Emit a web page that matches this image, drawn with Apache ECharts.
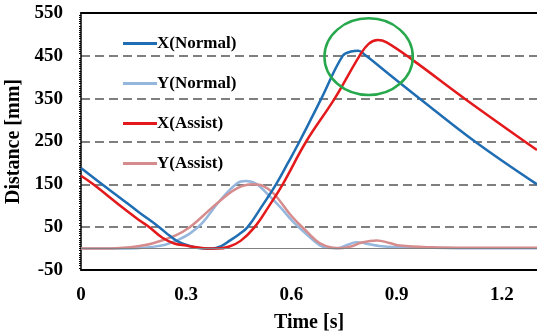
<!DOCTYPE html>
<html>
<head>
    <meta charset="utf-8"/>
    <title>Distance</title>
    <script src="https://cdn.jsdelivr.net/npm/echarts@6/dist/echarts.min.js"></script>
    <style>
        html, body { margin: 0; padding: 0; background: #fff; }
    </style>
</head>
<body>
<div id="main" style="width: 537px; height: 334px;"></div>
<script type="text/javascript">

    // X(Normal)
    var xNormalT = [0, 0.06, 0.109, 0.165, 0.223, 0.251, 0.28, 0.31, 0.34, 0.375, 0.40, 0.423, 0.45, 0.475, 0.515, 0.556, 0.59, 0.623, 0.685, 0.746, 0.77, 0.79, 0.81, 0.88, 0.966, 1.123, 1.3];
    var xNormalV = [188, 150, 120, 85, 50, 31, 15, 6, 1, 0, 6, 18, 33, 50, 98, 150, 200, 250, 350, 450, 460, 462, 452, 406, 350, 250, 150];

    // Y(Normal)
    var yNormalT = [0, 0.109, 0.16, 0.203, 0.24, 0.27, 0.31, 0.346, 0.394, 0.446, 0.47, 0.50, 0.537, 0.57, 0.603, 0.646, 0.68, 0.70, 0.73, 0.76, 0.785, 0.81, 0.85, 0.9, 1.0, 1.1, 1.3];
    var yNormalV = [0, 0, 1, 4, 9, 18, 35, 60, 110, 153, 158, 151, 123, 95, 64, 31, 8, 2, 1, 9, 15, 12, 6, 3, 2, 1, 1];

    // X(Assist)
    var xAssistT = [0, 0.035, 0.109, 0.165, 0.195, 0.231, 0.266, 0.30, 0.33, 0.36, 0.39, 0.423, 0.455, 0.495, 0.535, 0.575, 0.642, 0.723, 0.794, 0.82, 0.846, 0.87, 0.946, 1.094, 1.3];
    var xAssistV = [170, 150, 102, 67, 50, 26, 12, 7, 3, 0, 0, 5, 18, 50, 98, 150, 250, 350, 450, 478, 487, 482, 440, 350, 230];

    // Y(Assist)
    var yAssistT = [0, 0.066, 0.12, 0.157, 0.203, 0.27, 0.31, 0.346, 0.394, 0.446, 0.49, 0.52, 0.55, 0.60, 0.646, 0.68, 0.717, 0.74, 0.77, 0.80, 0.843, 0.88, 0.909, 1.0, 1.1, 1.3];
    var yAssistV = [0, 0, 2, 5, 12, 31, 50, 75, 110, 141, 150, 146, 128, 76, 38, 13, 2, 1, 5, 14, 19, 13, 7, 3, 2, 2];

    var names = ['X(Normal)', 'Y(Normal)', 'X(Assist)', 'Y(Assist)'];
    var colors = ['#1f6db3', '#95b6dd', '#e3191c', '#d68c8d'];

    function pairs(t, v) {
        return t.map(function (x, i) { return [x, v[i]]; });
    }

    var seriesData = [
        pairs(xNormalT, xNormalV),
        pairs(yNormalT, yNormalV),
        pairs(xAssistT, xAssistV),
        pairs(yAssistT, yAssistV)
    ];

    var font = 'Liberation Serif';
    var myChart = echarts.init(document.getElementById('main'));

    var series = names.map(function (n, i) {
        var s = {
            name: n,
            type: 'line',
            data: seriesData[i],
            smooth: 0.4,
            symbol: 'none',
            lineStyle: { color: colors[i], width: 2.5 },
            itemStyle: { color: colors[i] },
            z: i === 1 || i === 3 ? 3 : 4
        };
        if (i === 0) {
            // solid zero line
            s.markLine = {
                silent: true,
                symbol: 'none',
                label: { show: false },
                lineStyle: { color: '#808080', type: 'solid', width: 1 },
                data: [{ yAxis: 0 }]
            };
        }
        return s;
    });

    myChart.setOption({
        backgroundColor: '#fff',
        animation: false,
        grid: { left: 81, right: 0, top: 13, bottom: 64, containLabel: false, outerBoundsMode: 'none' },
        legend: {
            data: names,
            orient: 'vertical',
            left: 118,
            top: 30,
            icon: 'rect',
            itemWidth: 34,
            itemHeight: 3,
            itemGap: 23,
            textStyle: { fontFamily: font, fontWeight: 'bold', fontSize: 17, color: '#000', lineHeight: 16, padding: [0, 0, 0, -5] }
        },
        xAxis: [{
            type: 'value',
            min: 0,
            max: 1.3,
            interval: 0.3,
            name: 'Time [s]',
            nameLocation: 'middle',
            nameGap: 43,
            nameTextStyle: { fontFamily: font, fontWeight: 'bold', fontSize: 20, color: '#000' },
            axisLine: { show: true, onZero: false, lineStyle: { color: '#000', width: 2 } },
            axisTick: { show: false },
            splitLine: { show: false },
            axisLabel: {
                margin: 16,
                fontFamily: font, fontWeight: 'bold', fontSize: 19, color: '#000',
                showMaxLabel: false,
                formatter: function (v) {
                    return v === 0 ? '0' : v.toFixed(1);
                }
            }
        }, {
            type: 'value',
            position: 'top',
            min: 0,
            max: 1.3,
            axisLine: { show: true, onZero: false, lineStyle: { color: '#000', width: 2 } },
            axisTick: { show: false },
            axisLabel: { show: false },
            splitLine: { show: false }
        }],
        yAxis: {
            type: 'value',
            min: -50,
            max: 550,
            interval: 100,
            name: 'Distance [mm]',
            nameLocation: 'middle',
            nameGap: 54,
            nameTextStyle: { fontFamily: font, fontWeight: 'bold', fontSize: 20, color: '#000' },
            axisLine: { show: true, onZero: false, lineStyle: { color: '#000', width: 1.5 } },
            axisTick: { show: false },
            minorTick: { show: true, splitNumber: 20, length: 2, lineStyle: { color: '#000', width: 1 } },
            axisLabel: {
                margin: 18,
                fontFamily: font, fontWeight: 'bold', fontSize: 19, color: '#000'
            },
            splitLine: {
                show: true,
                lineStyle: { color: '#7f7f7f', type: [9, 5], width: 1.8 }
            }
        },
        series: series
    });

    // green circle around the peaks
    var c = myChart.convertToPixel({ gridIndex: 0 }, [0.82, 448]);
    var ex = myChart.convertToPixel({ gridIndex: 0 }, [0.946, 448]);
    var ey = myChart.convertToPixel({ gridIndex: 0 }, [0.82, 537.5]);
    myChart.setOption({
        graphic: [{
            type: 'ellipse',
            silent: true,
            z: 100,
            shape: { cx: c[0], cy: c[1], rx: ex[0] - c[0], ry: c[1] - ey[1] },
            style: { fill: 'none', stroke: '#27a84c', lineWidth: 2.5 }
        }]
    });
</script>
</body>
</html>
